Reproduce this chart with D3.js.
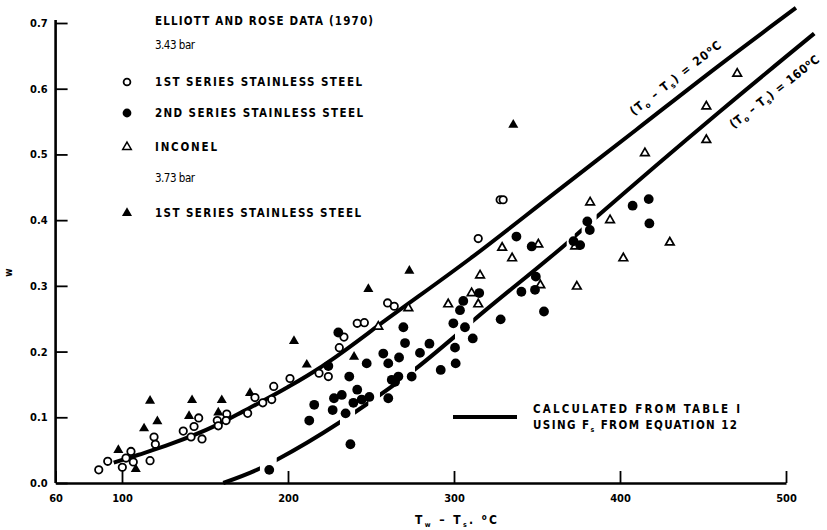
<!DOCTYPE html>
<html>
<head>
<meta charset="utf-8">
<script src="https://cdn.jsdelivr.net/npm/d3@7"></script>
<style>
  body { margin: 0; background: #fff; }
  svg { display: block; font-family: "DejaVu Sans Condensed", "DejaVu Sans", sans-serif; }
  .lab { font-weight: bold; font-size: 11.5px; }
  .small { font-size: 11.5px; }
  .tick text { font-family: "DejaVu Sans Condensed", sans-serif; font-weight: bold; font-size: 11px; }
</style>
</head>
<body>
<div id="chart"></div>
<script>
// Elliott and Rose data, [Tw - Ts (degC), w]
// 3.43 bar, 1st series stainless steel (open circles)
const openCircles = [
  [86, 0.020], [91.4, 0.033], [100.2, 0.024], [102.4, 0.038], [105.4, 0.048],
  [106.8, 0.032], [116.9, 0.034], [119.3, 0.070], [120.1, 0.059], [136.9, 0.079],
  [141.6, 0.070], [143.4, 0.086], [146.2, 0.099], [148.2, 0.067], [157.4, 0.095],
  [158, 0.087], [163.1, 0.105], [162.7, 0.095], [175.7, 0.106], [180.1, 0.130],
  [184.8, 0.122], [190.2, 0.127], [191.4, 0.147], [201.2, 0.159], [218.7, 0.167],
  [224.3, 0.162], [230.9, 0.206], [233.7, 0.222], [241.7, 0.243], [246, 0.244],
  [260, 0.274], [264, 0.269], [314.6, 0.372], [327.8, 0.431], [329.6, 0.431]
];
// 3.43 bar, 2nd series stainless steel (filled circles)
const filledCircles = [
  [188.7, 0.020], [212.8, 0.095], [215.8, 0.119], [224.3, 0.178], [230.3, 0.229],
  [226.9, 0.111], [227.7, 0.129], [232.4, 0.134], [234.7, 0.106], [236.9, 0.162],
  [237.6, 0.059], [239.4, 0.122], [241.7, 0.142], [244.4, 0.127], [247.4, 0.182],
  [249, 0.131], [257.4, 0.197], [260.4, 0.182], [260.4, 0.129], [262.5, 0.157],
  [264.5, 0.154], [266.5, 0.162], [266.9, 0.191], [269.5, 0.237], [270.5, 0.213],
  [274.5, 0.162], [279.5, 0.198], [285.2, 0.212], [292, 0.172], [299.6, 0.243],
  [300.6, 0.206], [301, 0.182], [303.6, 0.263], [305.6, 0.277], [306.6, 0.237],
  [311.3, 0.220], [315.2, 0.289], [328.1, 0.249], [337.6, 0.375], [340.6, 0.291],
  [346.8, 0.360], [348.8, 0.294], [349.3, 0.314], [354.2, 0.261], [372, 0.368],
  [376, 0.362], [380.3, 0.398], [381.8, 0.385], [407.6, 0.422], [417.3, 0.432],
  [417.7, 0.395]
];
// 3.43 bar, Inconel (open triangles)
const openTriangles = [
  [254.4, 0.238], [272.5, 0.266], [296.5, 0.272], [310.6, 0.289], [314.6, 0.272],
  [315.7, 0.316], [329, 0.358], [335, 0.342], [350.8, 0.363], [352, 0.301],
  [373, 0.360], [374, 0.299], [382, 0.427], [394, 0.400], [402, 0.342],
  [415, 0.502], [430, 0.366], [452, 0.522], [452, 0.573], [470.6, 0.623]
];
// 3.73 bar, 1st series stainless steel (filled triangles)
const filledTriangles = [
  [97.8, 0.050], [108.3, 0.021], [113.3, 0.083], [116.9, 0.125], [121.3, 0.094],
  [140.4, 0.102], [142.2, 0.126], [158, 0.107], [160.1, 0.126], [177.1, 0.137],
  [203.6, 0.216], [211.3, 0.180], [239.8, 0.192], [248.4, 0.295], [273.1, 0.323],
  [335.7, 0.545]
];

// calculated curves
const curve20 = [
  [95, 0.031], [110, 0.043], [129, 0.059], [157, 0.088], [173, 0.109], [200, 0.146],
  [219, 0.175], [226, 0.187], [260, 0.250], [310, 0.342], [360, 0.440], [410, 0.538],
  [460, 0.636], [506, 0.723]
];
const curve160 = [
  [161, 0.0], [183, 0.022], [193, 0.035], [231, 0.092], [248, 0.121], [277, 0.174],
  [300, 0.222], [312, 0.248], [368, 0.365], [386, 0.405], [460, 0.565], [517, 0.684]
];
// breaks in the 160 degC curve
const gaps160 = [
  [183.1, 193.2], [231.3, 240.4], [248.4, 255.4], [266, 276.5], [300.6, 311.6],
  [367.9, 372.7], [376.9, 385.9]
];

const xTicks = [60, 100, 200, 300, 400, 500];
const yTicks = [0, 0.1, 0.2, 0.3, 0.4, 0.5, 0.6, 0.7];

const width = 827, height = 530;

const x = d3.scaleLinear().domain([60, 500]).range([55.6, 786]);
const y = d3.scaleLinear().domain([0, 0.7]).range([483, 23]);

const svg = d3.select("#chart").append("svg")
  .attr("width", width)
  .attr("height", height);

const defs = svg.append("defs");
const mask = defs.append("mask").attr("id", "gaps").attr("maskUnits", "userSpaceOnUse")
  .attr("x", 0).attr("y", 0).attr("width", width).attr("height", height);
mask.append("rect").attr("width", width).attr("height", height).attr("fill", "white");
mask.selectAll("rect.g")
  .data(gaps160)
  .join("rect")
  .attr("class", "g")
  .attr("x", (d) => x(d[0]))
  .attr("width", (d) => x(d[1]) - x(d[0]))
  .attr("y", 0)
  .attr("height", height)
  .attr("fill", "black");

// axes
const yAxis = svg.append("g")
  .attr("transform", `translate(${x(60)},0)`)
  .call(d3.axisLeft(y).tickValues(yTicks).tickFormat(d3.format(".1f")).tickSize(-12).tickSizeOuter(0).tickPadding(8));
const xAxis = svg.append("g")
  .attr("transform", `translate(0,${y(0)})`)
  .call(d3.axisBottom(x).tickValues(xTicks).tickSize(-12).tickSizeOuter(0).tickPadding(9));

[yAxis, xAxis].forEach((a) => {
  a.select(".domain").attr("stroke-width", 2.6);
  a.selectAll(".tick line").attr("stroke-width", 1.8);
});
xAxis.selectAll(".tick text").attr("dy", "0.9em");
yAxis.select(".domain").attr("d", `M0,${y(0)}V${y(0.7) - 3}`);

// axis titles
svg.append("text")
  .attr("transform", `translate(12,${y(0.32)}) rotate(-90)`)
  .attr("text-anchor", "middle")
  .attr("font-size", 10)
  .attr("font-weight", "bold")
  .text("w");

const xt = svg.append("text")
  .attr("x", 415)
  .attr("y", 524)
  .attr("font-size", 12)
  .attr("font-weight", "bold")
  .attr("textLength", 82)
  .attr("lengthAdjust", "spacing");
xt.append("tspan").text("T");
xt.append("tspan").attr("font-size", 7).attr("dy", 3).text("w");
xt.append("tspan").attr("dy", -3).text("  –  T");
xt.append("tspan").attr("font-size", 7).attr("dy", 3).text("s");
xt.append("tspan").attr("dy", -3).text(".  ");
xt.append("tspan").attr("font-size", 8).attr("dy", -4).text("o");
xt.append("tspan").attr("dy", 4).text("C");

// calculated lines
const line = d3.line()
  .x((d) => x(d[0]))
  .y((d) => y(d[1]))
  .curve(d3.curveMonotoneX);

svg.append("path")
  .datum(curve20)
  .attr("d", line)
  .attr("fill", "none")
  .attr("stroke", "#000")
  .attr("stroke-width", 4);

svg.append("path")
  .datum(curve160)
  .attr("d", line)
  .attr("fill", "none")
  .attr("stroke", "#000")
  .attr("stroke-width", 4)
  .attr("mask", "url(#gaps)");

// curve labels
function curveLabel(pt, off, val, len) {
  const t = svg.append("text")
    .attr("transform", `translate(${x(pt[0])},${y(pt[1])}) rotate(-38)`)
    .attr("y", off)
    .attr("text-anchor", "middle")
    .attr("font-size", 12)
    .attr("font-weight", "bold")
    .attr("textLength", len)
    .attr("lengthAdjust", "spacing");
  t.append("tspan").text("(T");
  t.append("tspan").attr("font-size", 8).attr("dy", 3).text("o");
  t.append("tspan").attr("dy", -3).text(" – T");
  t.append("tspan").attr("font-size", 8).attr("dy", 3).text("s");
  t.append("tspan").attr("dy", -3).text(") =  " + val);
  t.append("tspan").attr("font-size", 8).attr("dy", -4).text("o");
  t.append("tspan").attr("dy", 4).text("C");
}
curveLabel([439, 0.598], -11, "20", 112);
curveLabel([486, 0.618], 23, "160", 110);

// markers
const triOpen = d3.symbol().type(d3.symbolTriangle).size(32)();
const triFilled = d3.symbol().type(d3.symbolTriangle).size(44)();

svg.append("g")
  .selectAll("path")
  .data(filledTriangles)
  .join("path")
  .attr("d", triFilled)
  .attr("transform", (d) => `translate(${x(d[0])},${y(d[1])})`)
  .attr("fill", "#000");

svg.append("g")
  .selectAll("path")
  .data(openTriangles)
  .join("path")
  .attr("d", triOpen)
  .attr("transform", (d) => `translate(${x(d[0])},${y(d[1])})`)
  .attr("fill", "#fff")
  .attr("stroke", "#000")
  .attr("stroke-width", 1.7);

svg.append("g")
  .selectAll("circle")
  .data(openCircles)
  .join("circle")
  .attr("cx", (d) => x(d[0]))
  .attr("cy", (d) => y(d[1]))
  .attr("r", 3.7)
  .attr("fill", "#fff")
  .attr("stroke", "#000")
  .attr("stroke-width", 1.8);

svg.append("g")
  .selectAll("circle")
  .data(filledCircles)
  .join("circle")
  .attr("cx", (d) => x(d[0]))
  .attr("cy", (d) => y(d[1]))
  .attr("r", 4.9)
  .attr("fill", "#000");

// legend (top left)
const legend = svg.append("g");
const legendRows = [
  ["lab", 25, "ELLIOTT AND ROSE DATA (1970)", 218],
  ["small", 49, "3.43 bar", 40],
  ["lab", 86, "1ST SERIES STAINLESS STEEL", 207],
  ["lab", 117, "2ND SERIES STAINLESS STEEL", 208],
  ["lab", 151, "INCONEL", 62],
  ["small", 182, "3.73 bar", 40],
  ["lab", 217, "1ST SERIES STAINLESS STEEL", 206]
];
legend.selectAll("text.row")
  .data(legendRows)
  .join("text")
  .attr("class", (d) => "row " + d[0])
  .attr("x", 155)
  .attr("y", (d) => d[1])
  .attr("textLength", (d) => d[3])
  .attr("lengthAdjust", "spacing")
  .text((d) => d[2]);

legend.append("circle").attr("cx", 127).attr("cy", 82).attr("r", 3.4)
  .attr("fill", "#fff").attr("stroke", "#000").attr("stroke-width", 1.8);
legend.append("circle").attr("cx", 127).attr("cy", 113).attr("r", 4.4).attr("fill", "#000");
legend.append("path").attr("d", triOpen).attr("transform", "translate(127,147)")
  .attr("fill", "#fff").attr("stroke", "#000").attr("stroke-width", 1.5);
legend.append("path").attr("d", triFilled).attr("transform", "translate(127,213)").attr("fill", "#000");

// legend for calculated line
legend.append("line").attr("x1", 453).attr("x2", 517).attr("y1", 417).attr("y2", 417)
  .attr("stroke", "#000").attr("stroke-width", 4);
legend.append("text").attr("class", "lab").attr("x", 533).attr("y", 413)
  .attr("textLength", 207).attr("lengthAdjust", "spacing")
  .text("CALCULATED FROM TABLE I");
const l2 = legend.append("text").attr("class", "lab").attr("x", 533).attr("y", 429)
  .attr("textLength", 204).attr("lengthAdjust", "spacing");
l2.append("tspan").text("USING F");
l2.append("tspan").attr("font-size", 7).attr("dy", 3).text("s");
l2.append("tspan").attr("dy", -3).text(" FROM EQUATION 12");
</script>
</body>
</html>
